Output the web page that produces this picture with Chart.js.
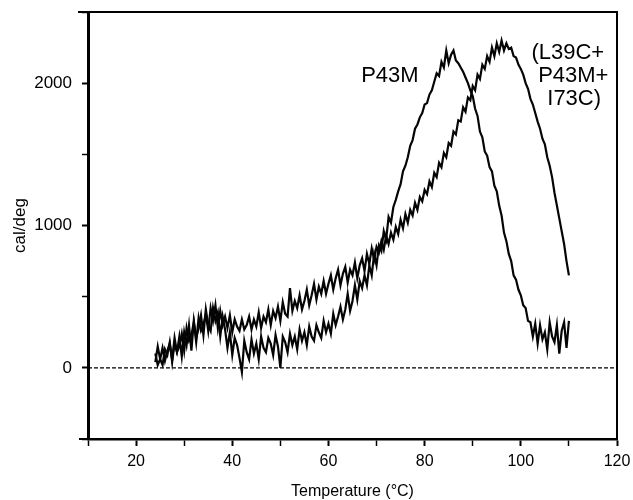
<!DOCTYPE html>
<html>
<head>
<meta charset="utf-8">
<script src="https://cdn.jsdelivr.net/npm/chart.js@4.4.1/dist/chart.umd.min.js"></script>
<style>
  html, body { margin: 0; padding: 0; background: #fff; }
  #wrap { width: 633px; height: 500px; }
</style>
</head>
<body>
<div id="wrap"><canvas id="dsc-chart" width="633" height="500"></canvas></div>
<script>
// temperature in degC, one reading every half degree
const temperatures = [
  24, 24.5, 25, 25.5, 26, 26.5, 27, 27.5, 28, 28.5,
  29, 29.5, 30, 30.5, 31, 31.5, 32, 32.5, 33, 33.5,
  34, 34.5, 35, 35.5, 36, 36.5, 37, 37.5, 38, 38.5,
  39, 39.5, 40, 40.5, 41, 41.5, 42, 42.5, 43, 43.5,
  44, 44.5, 45, 45.5, 46, 46.5, 47, 47.5, 48, 48.5,
  49, 49.5, 50, 50.5, 51, 51.5, 52, 52.5, 53, 53.5,
  54, 54.5, 55, 55.5, 56, 56.5, 57, 57.5, 58, 58.5,
  59, 59.5, 60, 60.5, 61, 61.5, 62, 62.5, 63, 63.5,
  64, 64.5, 65, 65.5, 66, 66.5, 67, 67.5, 68, 68.5,
  69, 69.5, 70, 70.5, 71, 71.5, 72, 72.5, 73, 73.5,
  74, 74.5, 75, 75.5, 76, 76.5, 77, 77.5, 78, 78.5,
  79, 79.5, 80, 80.5, 81, 81.5, 82, 82.5, 83, 83.5,
  84, 84.5, 85, 85.5, 86, 86.5, 87, 87.5, 88, 88.5,
  89, 89.5, 90, 90.5, 91, 91.5, 92, 92.5, 93, 93.5,
  94, 94.5, 95, 95.5, 96, 96.5, 97, 97.5, 98, 98.5,
  99, 99.5, 100, 100.5, 101, 101.5, 102, 102.5, 103, 103.5,
  104, 104.5, 105, 105.5, 106, 106.5, 107, 107.5, 108, 108.5,
  109, 109.5, 110,
];

// cal/deg, P43M
const p43mValues = [
  40, 150, 60, 20, 130, 90, 180, 40, 170, 110,
  220, 80, 250, 160, 300, 120, 330, 210, 280, 370,
  230, 410, 300, 260, 420, 330, 390, 220, 360, 270,
  140, 250, 90, 210, 160, 70, -30, 190, 110, 60,
  200, 100, 170, 60, 220, 140, 110, 210, 170, 90,
  230, 150, 0, 220, 180, 110, 240, 160, 220, 130,
  270, 190, 250, 160, 290, 220, 190, 300, 250, 210,
  330, 250, 310, 240, 380, 300, 360, 430, 340, 410,
  520, 400, 470, 580, 480, 610, 560, 650, 580, 720,
  650, 800, 720, 860, 820, 960, 900, 1060, 1020, 1130,
  1180, 1240, 1290, 1380, 1420, 1480, 1560, 1600, 1680, 1710,
  1760, 1790, 1850, 1860, 1920, 1950, 2010, 2070, 2050, 2150,
  2110, 2230, 2140, 2200, 2230, 2160, 2140, 2110, 2080, 2040,
  2000, 1950, 1910, 1820, 1770, 1660, 1620, 1520, 1490, 1410,
  1380, 1280, 1240, 1140, 1070, 950, 890, 800, 750, 650,
  620, 550, 510, 440, 420, 330, 320, 220, 310, 170,
  300, 200, 250, 130, 320, 220, 180, 300, 100, 260,
  320, 140, 330,
];

// cal/deg, L39C+P43M+I73C
const tripleValues = [
  100, 20, 60, 140, 50, 120, 170, 60, 210, 110,
  150, 240, 120, 280, 190, 230, 320, 180, 350, 260,
  300, 380, 260, 420, 330, 440, 280, 400, 300, 360,
  280, 370, 250, 340, 290, 260, 340, 270, 300, 360,
  270, 340, 290, 390, 280, 360, 320, 410, 300, 400,
  350, 430, 330, 460, 380, 360, 560, 400, 470, 420,
  510, 410, 470, 550, 440, 510, 590, 480, 570, 520,
  610, 520, 590, 650, 550, 630, 690, 580, 660, 710,
  600, 690, 650, 740, 630, 720, 770, 680, 800, 730,
  840, 760, 850, 810, 890, 830, 930, 870, 950, 900,
  990, 940, 1040, 980, 1080, 1020, 1110, 1070, 1160, 1110,
  1200, 1170, 1250, 1220, 1310, 1270, 1370, 1340, 1440, 1410,
  1510, 1480, 1580, 1560, 1660, 1640, 1740, 1730, 1830, 1800,
  1900, 1880, 1980, 1950, 2060, 2030, 2130, 2100, 2190, 2150,
  2250, 2190, 2280, 2220, 2300, 2230, 2280, 2240, 2250, 2190,
  2180, 2130, 2100, 2060, 2000, 1960, 1890, 1850, 1790, 1730,
  1680, 1610, 1570, 1480, 1420, 1340, 1230, 1140, 1050, 960,
  870, 750, 650,
];

const xTickLabels = [20, 40, 60, 80, 100, 120];
const yTickLabels = [0, 1000, 2000];
const xRange = [10, 120];
const yRange = [-500, 2500];

const FONT = "'Liberation Sans', Arial, Helvetica, sans-serif";
Chart.defaults.font.family = FONT;
Chart.defaults.color = "#000";

function toPoints(values) {
  return values.map((v, i) => ({ x: temperatures[i], y: v }));
}

// top + right edge of the box, and the little overhangs on the left
const framePlugin = {
  id: "frame",
  afterDraw(chart) {
    const { ctx, chartArea } = chart;
    ctx.save();
    ctx.strokeStyle = "#000";
    ctx.lineWidth = 2;
    ctx.beginPath();
    ctx.moveTo(chartArea.left - 10, chartArea.top);
    ctx.lineTo(chartArea.right, chartArea.top);
    ctx.lineTo(chartArea.right, chartArea.bottom);
    ctx.moveTo(chartArea.left - 9, chartArea.bottom);
    ctx.lineTo(chartArea.left, chartArea.bottom);
    ctx.stroke();
    ctx.restore();
  },
};

const curveLabels = {
  id: "curveLabels",
  afterDatasetsDraw(chart) {
    const { ctx } = chart;
    const x = chart.scales.x;
    const y = chart.scales.y;
    ctx.save();
    ctx.fillStyle = "#000";
    ctx.font = "22px " + FONT;
    ctx.textBaseline = "middle";
    ctx.textAlign = "left";
    ctx.fillText("P43M", x.getPixelForValue(66.8), y.getPixelForValue(2053));
    ctx.fillText("(L39C+", x.getPixelForValue(102.2), y.getPixelForValue(2214));
    ctx.fillText("P43M+", x.getPixelForValue(103.6), y.getPixelForValue(2053));
    ctx.fillText("I73C)", x.getPixelForValue(105.5), y.getPixelForValue(1892));
    ctx.restore();
  },
};

const ctx = document.getElementById("dsc-chart");

new Chart(ctx, {
  type: "line",
  data: {
    datasets: [
      {
        label: "zero",
        data: [
          { x: xRange[0], y: 0 },
          { x: xRange[1], y: 0 },
        ],
        borderColor: "#000",
        borderWidth: 1.2,
        borderDash: [4, 2],
        pointRadius: 0,
      },
      {
        label: "P43M",
        data: toPoints(p43mValues),
        borderColor: "#050505",
        borderWidth: 2.2,
        pointRadius: 0,
        tension: 0,
      },
      {
        label: "L39C+P43M+I73C",
        data: toPoints(tripleValues),
        borderColor: "#050505",
        borderWidth: 2.2,
        pointRadius: 0,
        tension: 0,
      },
    ],
  },
  options: {
    responsive: false,
    animation: false,
    layout: { padding: { top: 12, right: 16, left: 0, bottom: 0 } },
    plugins: {
      legend: { display: false },
      tooltip: { enabled: false },
    },
    scales: {
      x: {
        type: "linear",
        min: xRange[0],
        max: xRange[1],
        afterFit: (scale) => {
          scale.height = 61;
          scale.paddingLeft = 0;
          scale.paddingRight = 0;
        },
        afterBuildTicks: (scale) => {
          const ticks = [];
          for (let v = xRange[0]; v <= xRange[1]; v += 10) ticks.push({ value: v });
          scale.ticks = ticks;
        },
        border: { color: "#000", width: 2.5 },
        grid: {
          drawOnChartArea: false,
          tickLength: 7,
          tickColor: "#000",
          tickWidth: (c) => (xTickLabels.includes(c.tick.value) ? 2 : 1.5),
        },
        ticks: {
          padding: 6,
          maxRotation: 0,
          autoSkip: false,
          font: { size: 16 },
          color: "#000",
          callback: (v) => (xTickLabels.includes(v) ? String(v) : ""),
        },
        title: {
          display: true,
          text: "Temperature (\u00b0C)",
          font: { size: 16, lineHeight: 1 },
          padding: { top: 0, bottom: 0 },
          color: "#000",
        },
      },
      y: {
        type: "linear",
        min: yRange[0],
        max: yRange[1],
        afterFit: (scale) => {
          scale.width = 88;
          scale.paddingTop = 0;
          scale.paddingBottom = 0;
        },
        afterBuildTicks: (scale) => {
          const ticks = [];
          for (let v = yRange[0]; v <= yRange[1]; v += 500) ticks.push({ value: v });
          scale.ticks = ticks;
        },
        border: { color: "#000", width: 3 },
        grid: {
          drawOnChartArea: false,
          tickLength: 6,
          tickColor: "#000",
          tickWidth: (c) => (yTickLabels.includes(c.tick.value) ? 2 : 1.5),
        },
        ticks: {
          padding: 10,
          autoSkip: false,
          font: { size: 17 },
          color: "#000",
          callback: (v) => (yTickLabels.includes(v) ? String(v) : ""),
        },
        title: {
          display: true,
          text: "cal/deg",
          font: { size: 17 },
          padding: { top: 10, bottom: 0 },
          color: "#000",
        },
      },
    },
  },
  plugins: [framePlugin, curveLabels],
});
</script>
</body>
</html>
